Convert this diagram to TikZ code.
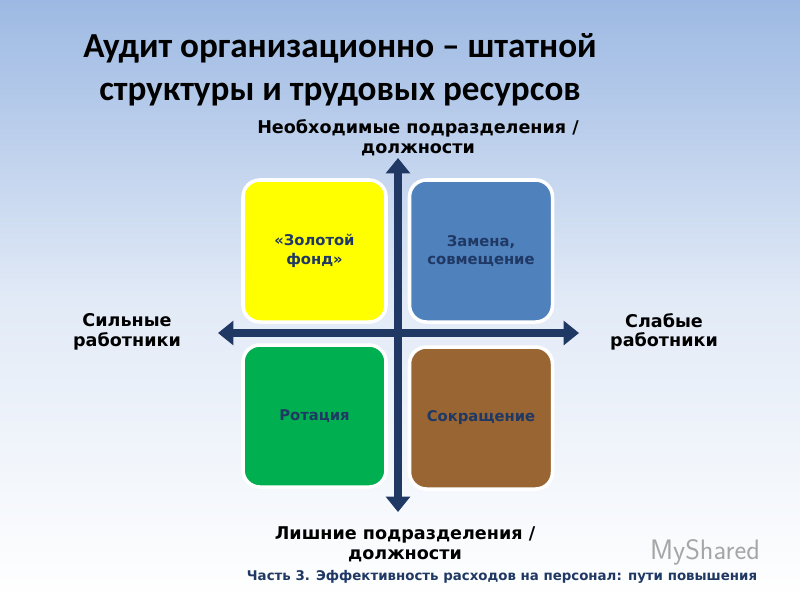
\documentclass[tikz,border=0pt]{standalone}
\usepackage{fontspec}
\setmainfont{DejaVu Sans}
\newfontfamily\titlefont{Carlito}
\usetikzlibrary{arrows.meta}
\definecolor{navy}{HTML}{1F3864}
\definecolor{ylw}{HTML}{FFFF00}
\definecolor{blu}{HTML}{4F81BD}
\definecolor{grn}{HTML}{00B050}
\definecolor{brn}{HTML}{996633}
\definecolor{bgtop}{HTML}{9DB9E3}
\tikzset{
  quad/.style={draw=white, line width=2.5pt, rounded corners=12pt, minimum width=143*0.025cm, minimum height=142*0.025cm, text width=3cm, align=center, font=\bfseries\fontsize{10.5}{13}\selectfont, text=navy},
  lbl/.style={align=center, font=\bfseries\fontsize{12.5}{14}\selectfont, text=black},
  axis/.style={navy, line width=5.5pt, -{Triangle[length=11pt,width=17pt]}}
}
\begin{document}
\begin{tikzpicture}[x=0.025cm,y=-0.025cm]
\shade[top color=bgtop, bottom color=white, middle color=bgtop!30] (0,0) rectangle (800,600);
\useasboundingbox (0,0) rectangle (800,600);
\node[font=\titlefont\bfseries\fontsize{25}{31}\selectfont, align=center] (title) at (340,70) {Аудит организационно – штатной\\структуры и трудовых ресурсов};
\node[quad, fill=ylw] (q1) at (314.5,251) {«Золотой\\фонд»};
\node[quad, fill=blu] (q2) at (481,251) {Замена,\\совмещение};
\node[quad, fill=grn] (q3) at (314.5,416) {Ротация};
\node[quad, fill=brn] (q4) at (481,418) {Сокращение};
\coordinate (c) at (398,333);
\coordinate (top) at (398,158);
\coordinate (bot) at (398,512);
\coordinate (lft) at (218,333);
\coordinate (rgt) at (579,333);
\draw[axis] (c) -- (top);
\draw[axis] (c) -- (bot);
\draw[axis] (c) -- (lft);
\draw[axis] (c) -- (rgt);
\node[lbl] (n1) at (418,138) {Необходимые подразделения  /\\должности};
\node[lbl] (n2) at (405,544) {Лишние подразделения /\\должности};
\node[lbl] (n3) at (127,332) {Сильные\\работники};
\node[lbl] (n4) at (664,332) {Слабые\\работники};
\node[font=\sffamily\fontsize{20}{20}\selectfont, text=gray!70] (wm) at (705,552) {MyShared};
\node[font=\bfseries\fontsize{9.5}{11}\selectfont, text=navy] (foot) at (502,577) {Часть 3. Эффективность расходов на персонал: пути повышения};
\end{tikzpicture}
\end{document}
